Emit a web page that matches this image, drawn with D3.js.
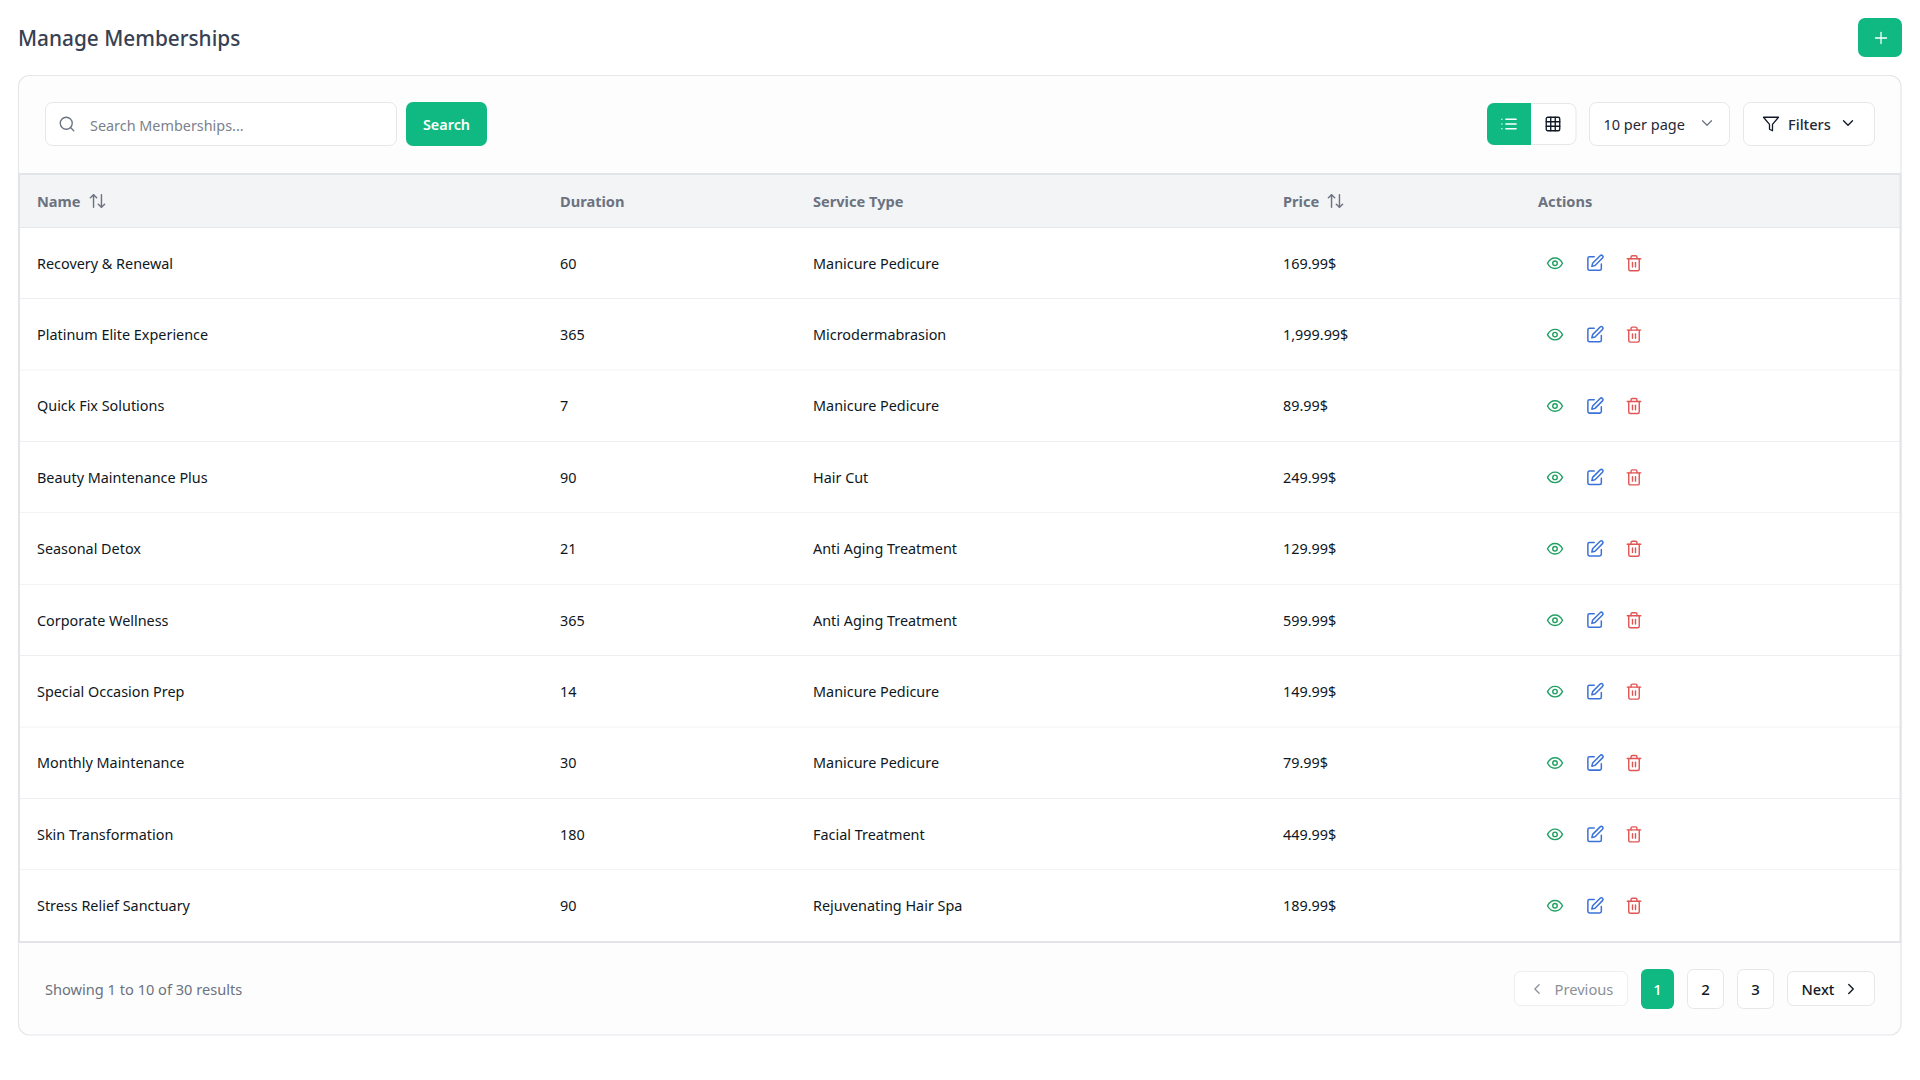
<!DOCTYPE html>
<html>
<head>
<meta charset="utf-8">
<title>Manage Memberships</title>
<script src="https://cdn.jsdelivr.net/npm/d3@7"></script>
<style>
  html, body { margin: 0; padding: 0; background: #fff; }
  svg { display: block; font-family: "Noto Sans", sans-serif; }
  .icon { fill: none; stroke-linecap: round; stroke-linejoin: round; }
</style>
</head>
<body>
<svg id="chart" width="1920" height="1080"></svg>
<script>
// --- Table content ---
const columns = ["Name", "Duration", "Service Type", "Price", "Actions"];
const sortableColumns = ["Name", "Price"];
const names = ["Recovery & Renewal", "Platinum Elite Experience", "Quick Fix Solutions", "Beauty Maintenance Plus", "Seasonal Detox", "Corporate Wellness", "Special Occasion Prep", "Monthly Maintenance", "Skin Transformation", "Stress Relief Sanctuary"];
const durations = [60, 365, 7, 90, 21, 365, 14, 30, 180, 90];
const serviceTypes = ["Manicure Pedicure", "Microdermabrasion", "Manicure Pedicure", "Hair Cut", "Anti Aging Treatment", "Anti Aging Treatment", "Manicure Pedicure", "Manicure Pedicure", "Facial Treatment", "Rejuvenating Hair Spa"];
const prices = ["169.99$", "1,999.99$", "89.99$", "249.99$", "129.99$", "599.99$", "149.99$", "79.99$", "449.99$", "189.99$"];
const pages = ["1", "2", "3"];

const GREEN = "#10b981";
const BORDER = "#e5e7eb";
const FONT = 14.4;

const svg = d3.select("#chart");

// Scales for the table grid
const xCol = d3.scaleOrdinal().domain(columns).range([37, 560, 813, 1283, 1538]);
const yRow = d3.scaleBand().domain(names).range([227.5, 941.5]);

function box(parent, x, y, w, h, r, fill, stroke) {
    return parent.append("rect")
        .attr("x", x).attr("y", y).attr("width", w).attr("height", h).attr("rx", r)
        .attr("fill", fill).attr("stroke", stroke || "none");
}

function label(parent, x, y, str, size, color, weight, anchor) {
    return parent.append("text")
        .attr("x", x).attr("y", y).attr("dy", "0.35em")
        .attr("font-size", size).attr("fill", color)
        .attr("font-weight", weight || 400)
        .attr("text-anchor", anchor || "start")
        .text(str);
}

// Icons are 24x24 stroke glyphs, placed by their centre
function icon(parent, cx, cy, size, color, paths, width) {
    const k = size / 24;
    const g = parent.append("g").attr("class", "icon")
        .attr("transform", `translate(${cx - size / 2},${cy - size / 2}) scale(${k})`)
        .attr("stroke", color).attr("stroke-width", width || 2);
    paths.forEach(d => g.append("path").attr("d", d));
    return g;
}

const ICONS = {
    search: ["M11 3a8 8 0 1 0 0 16a8 8 0 1 0 0-16", "M21 21l-4.3-4.3"],
    sort: ["M7 20V4", "M3 8l4-4 4 4", "M17 4v16", "M13 16l4 4 4-4"],
    list: ["M8 6h13", "M8 12h13", "M8 18h13", "M3 6h.01", "M3 12h.01", "M3 18h.01"],
    grid: ["M5 3h14a2 2 0 0 1 2 2v14a2 2 0 0 1-2 2H5a2 2 0 0 1-2-2V5a2 2 0 0 1 2-2z", "M3 9h18", "M3 15h18", "M9 3v18", "M15 3v18"],
    chevronDown: ["M6 9l6 6 6-6"],
    chevronLeft: ["M15 18l-6-6 6-6"],
    chevronRight: ["M9 18l6-6-6-6"],
    filter: ["M22 3H2l8 9.46V19l4 2v-8.54L22 3z"],
    plus: ["M5 12h14", "M12 5v14"],
    eye: ["M2 12s3.5-7 10-7 10 7 10 7-3.5 7-10 7-10-7-10-7z", "M12 9a3 3 0 1 0 0 6a3 3 0 1 0 0-6"],
    edit: ["M11 4H5a2 2 0 0 0-2 2v13a2 2 0 0 0 2 2h13a2 2 0 0 0 2-2v-6", "M18.5 2.5a2.12 2.12 0 0 1 3 3L12 15l-4 1 1-4z"],
    trash: ["M3 6h18", "M19 6v14a2 2 0 0 1-2 2H7a2 2 0 0 1-2-2V6", "M8 6V4a2 2 0 0 1 2-2h4a2 2 0 0 1 2 2v2", "M10 11v6", "M14 11v6"]
};

// --- Page header ---
label(svg, 18, 38.8, "Manage Memberships", 20.8, "#374151", 500);
box(svg, 1858, 18, 44, 39, 7, GREEN);
icon(svg, 1881, 38, 19, "#fff", ICONS.plus, 1.6);

// --- Card ---
box(svg, 18.5, 75.5, 1882.5, 959.5, 11, "#fdfdfe", BORDER).attr("stroke-width", 1.2);

// --- Toolbar ---
box(svg, 45.5, 102.5, 351, 43, 7, "#fff", BORDER);
icon(svg, 67, 124, 18, "#6b7280", ICONS.search, 1.8);
label(svg, 90, 125.5, "Search Memberships...", FONT, "#7b818c");
box(svg, 406, 102, 81, 44, 7, GREEN);
label(svg, 446.5, 124.5, "Search", FONT, "#fff", 600, "middle");

box(svg, 1487.5, 103.5, 88.5, 41, 7, "#fff", BORDER);
svg.append("path").attr("fill", GREEN)
    .attr("d", "M1531 103H1494a7 7 0 0 0-7 7V138a7 7 0 0 0 7 7H1531z");
icon(svg, 1509, 124, 19, "#fff", ICONS.list, 1.7);
icon(svg, 1553, 124, 18, "#111827", ICONS.grid, 1.8);

box(svg, 1589.5, 102.5, 140, 43, 7, "#fff", BORDER);
label(svg, 1603.5, 124.5, "10 per page", 14.5, "#1f2937");
icon(svg, 1707, 123, 18, "#6b7280", ICONS.chevronDown, 1.6);

box(svg, 1743.5, 102.5, 131, 43, 7, "#fff", BORDER);
icon(svg, 1771, 124, 18, "#111827", ICONS.filter, 1.7);
label(svg, 1788, 124.5, "Filters", 14.6, "#1f2937", 500);
icon(svg, 1848, 123, 18, "#111827", ICONS.chevronDown, 1.8);

// --- Table header ---
svg.append("rect").attr("x", 19.5).attr("y", 174).attr("width", 1881).attr("height", 53).attr("fill", "#f3f4f6");
svg.append("line").attr("x1", 19).attr("x2", 1901).attr("y1", 174).attr("y2", 174).attr("stroke", "#e2e4e8").attr("stroke-width", 2);

const head = svg.append("g").selectAll("g").data(columns).join("g");
head.append("text")
    .attr("x", d => xCol(d)).attr("y", 201.5).attr("dy", "0.35em")
    .attr("font-size", 14.6).attr("font-weight", 700).attr("fill", "#6b7280")
    .text(d => d);
sortableColumns.forEach(c => icon(svg, xCol(c) + (c === "Name" ? 60.5 : 52.5), 201, 19, "#6b7280", ICONS.sort, 1.8));

// --- Table rows ---
const rowData = names.map((name, i) => ({
    name, duration: durations[i], service: serviceTypes[i], price: prices[i]
}));

const rows = svg.append("g").selectAll("g").data(rowData).join("g")
    .attr("transform", d => `translate(0,${yRow(d.name)})`);

rows.append("rect")
    .attr("x", 19.5).attr("width", 1881).attr("height", yRow.bandwidth()).attr("fill", "#fff");
rows.append("line")
    .attr("x1", 19.5).attr("x2", 1900.5)
    .attr("y1", yRow.bandwidth()).attr("y2", yRow.bandwidth())
    .attr("stroke", BORDER).attr("stroke-width", 1.2);

svg.append("line").attr("x1", 19.5).attr("x2", 1900.5).attr("y1", 227.5).attr("y2", 227.5)
    .attr("stroke", BORDER).attr("stroke-width", 1.2);

const cells = [["Name", d => d.name], ["Duration", d => d.duration], ["Service Type", d => d.service], ["Price", d => d.price]];
cells.forEach(([col, get]) => {
    rows.append("text")
        .attr("x", xCol(col)).attr("y", yRow.bandwidth() / 2 + 0.3).attr("dy", "0.35em")
        .attr("font-size", FONT).attr("fill", "#0f1722")
        .text(get);
});

rows.each(function () {
    const g = d3.select(this), cy = yRow.bandwidth() / 2;
    icon(g, xCol("Actions") + 17, cy, 18, "#22a063", ICONS.eye, 1.9);
    icon(g, xCol("Actions") + 57, cy, 19, "#3b72d9", ICONS.edit, 1.9);
    icon(g, xCol("Actions") + 96, cy, 18, "#e25555", ICONS.trash, 1.9);
});

// --- Outer table edges and footer rule ---
svg.append("line").attr("x1", 19).attr("x2", 19).attr("y1", 174).attr("y2", 942).attr("stroke", "#e2e4e8").attr("stroke-width", 2);
svg.append("line").attr("x1", 1900.5).attr("x2", 1900.5).attr("y1", 174).attr("y2", 942).attr("stroke", "#e2e4e8").attr("stroke-width", 2);
svg.append("line").attr("x1", 19).attr("x2", 1901).attr("y1", 942).attr("y2", 942).attr("stroke", "#e2e4e8").attr("stroke-width", 2);

// --- Footer ---
label(svg, 45, 990, "Showing 1 to 10 of 30 results", 14.6, "#6b7280");

box(svg, 1514.5, 971.5, 113, 34, 6, "#fff", "#eceef1");
icon(svg, 1537, 989, 17, "#8b9099", ICONS.chevronLeft, 1.8);
label(svg, 1554.5, 990, "Previous", 14.7, "#8b9099");

const xPage = d3.scaleOrdinal().domain(pages).range([1641, 1687.5, 1737.5]);
const wPage = d3.scaleOrdinal().domain(pages).range([33, 36, 36]);
const pg = svg.append("g").selectAll("g").data(pages).join("g");
pg.append("rect")
    .attr("x", d => xPage(d)).attr("y", d => d === "1" ? 969 : 969.5)
    .attr("width", d => wPage(d)).attr("height", d => d === "1" ? 40 : 39).attr("rx", 6)
    .attr("fill", d => d === "1" ? GREEN : "#fff")
    .attr("stroke", d => d === "1" ? "none" : BORDER);
pg.append("text")
    .attr("x", d => xPage(d) + wPage(d) / 2).attr("y", 990).attr("dy", "0.35em")
    .attr("text-anchor", "middle").attr("font-size", 15).attr("font-weight", 500)
    .attr("fill", d => d === "1" ? "#fff" : "#111827")
    .text(d => d);

box(svg, 1787.5, 971.5, 87, 34, 6, "#fff", BORDER);
label(svg, 1801.5, 990, "Next", 14.6, "#111827", 500);
icon(svg, 1851, 989, 18, "#111827", ICONS.chevronRight, 1.8);
</script>
</body>
</html>
